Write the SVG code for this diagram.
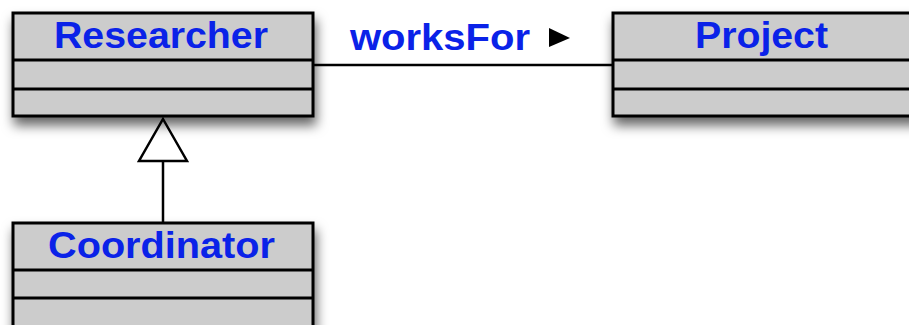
<svg xmlns="http://www.w3.org/2000/svg" width="909" height="325" viewBox="0 0 909 325">
<defs>
<filter id="sh" x="-10%" y="-20%" width="125%" height="170%">
<feDropShadow dx="2" dy="8" stdDeviation="6" flood-color="#000" flood-opacity="0.6"/>
</filter>
<style>
.box{fill:#cccccc;stroke:#000;stroke-width:3}
.div{stroke:#000;stroke-width:3;fill:none}
.name{font-family:"Liberation Sans",Arial,sans-serif;font-weight:bold;font-size:37px;fill:#0a22e8;text-anchor:middle}
.ln{stroke:#000;stroke-width:2.5;fill:none}
</style>
</defs>
<g id="connectors">
<line class="ln" x1="313" y1="65" x2="613" y2="65"/>
<line class="ln" x1="163" y1="161" x2="163" y2="223"/>
<polygon points="163,119 187,161 139,161" fill="#fff" stroke="#000" stroke-width="2.5"/>
<text x="440" y="50" class="name" font-size="34" textLength="180" lengthAdjust="spacingAndGlyphs">worksFor</text>
<polygon points="549,28 570,38 549,47" fill="#000"/>
</g>
<g id="researcher">
<rect class="box" x="13" y="13" width="300" height="103" filter="url(#sh)"/>
<line class="div" x1="13" y1="60" x2="313" y2="60"/>
<line class="div" x1="13" y1="89" x2="313" y2="89"/>
<text class="name" x="161" y="48" textLength="214" lengthAdjust="spacingAndGlyphs">Researcher</text>
</g>
<g id="project">
<rect class="box" x="613" y="13" width="310" height="103" filter="url(#sh)"/>
<line class="div" x1="613" y1="60" x2="923" y2="60"/>
<line class="div" x1="613" y1="89" x2="923" y2="89"/>
<text class="name" x="761.5" y="48" textLength="133" lengthAdjust="spacingAndGlyphs">Project</text>
</g>
<g id="coordinator">
<rect class="box" x="13" y="223" width="300" height="120" filter="url(#sh)"/>
<line class="div" x1="13" y1="270" x2="313" y2="270"/>
<line class="div" x1="13" y1="298" x2="313" y2="298"/>
<text class="name" x="161.5" y="258" textLength="227" lengthAdjust="spacingAndGlyphs">Coordinator</text>
</g>
</svg>
